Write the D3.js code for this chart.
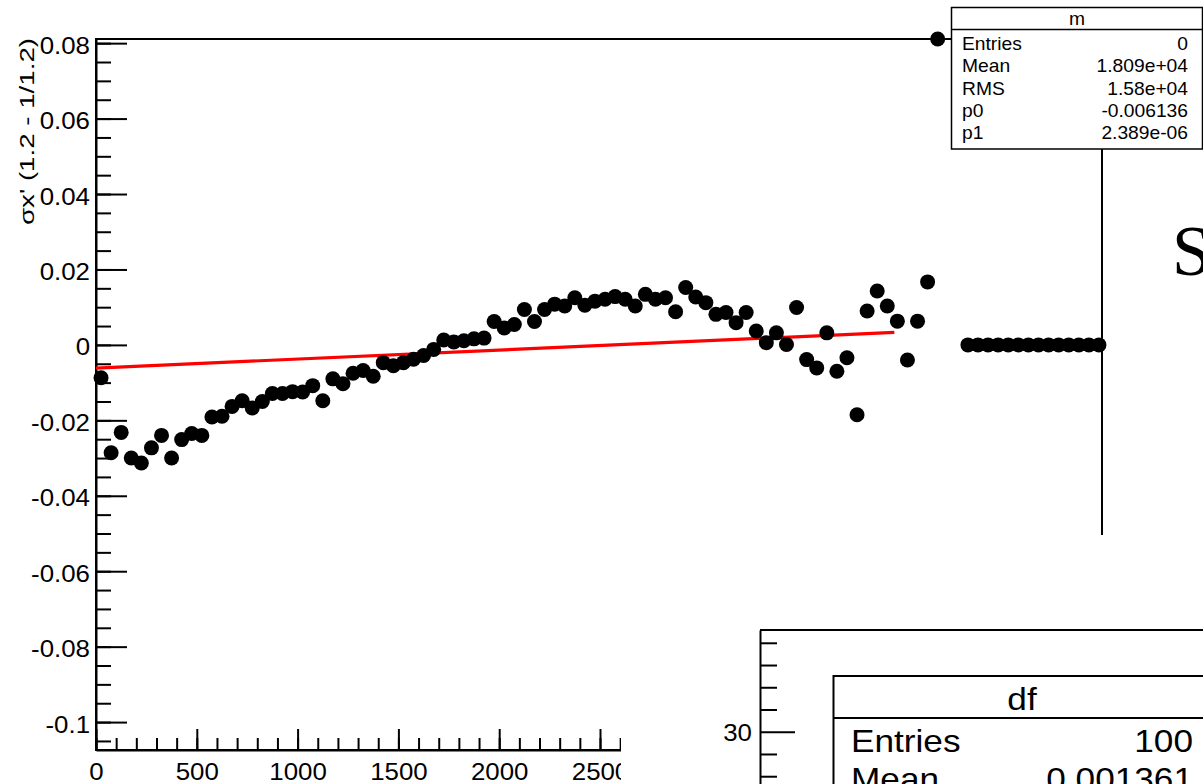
<!DOCTYPE html>
<html>
<head>
<meta charset="utf-8">
<script src="https://cdn.jsdelivr.net/npm/d3@7"></script>
<style>
  html, body { margin: 0; padding: 0; background: #fff; }
  svg { display: block; }
  text { font-family: "Liberation Sans", Arial, Helvetica, sans-serif; fill: #000; }
</style>
</head>
<body>
<svg id="chart" width="1203" height="784"></svg>
<script>
// ---------------- data ----------------
const binEdges = [0, 5000];          // histogram range, 100 bins of 50
const binCenters = d3.range(25, 5000, 50);
const binValues = [
  -0.0087, -0.0286, -0.0232, -0.0300, -0.0313, -0.0273, -0.0240, -0.0300, -0.0251, -0.0235,
  -0.0240, -0.0191, -0.0189, -0.0163, -0.0148, -0.0167, -0.0150, -0.0129, -0.0129, -0.0124,
  -0.0125, -0.0108, -0.0148, -0.0090, -0.0103, -0.0075, -0.0068, -0.0083, -0.0047, -0.0055,
  -0.0047, -0.0038, -0.0028, -0.0012, 0.0013, 0.0008, 0.0011, 0.0016, 0.0018, 0.0062,
  0.0045, 0.0054, 0.0094, 0.0062, 0.0094, 0.0108, 0.0103, 0.0125, 0.0105, 0.0116,
  0.0121, 0.0128, 0.0121, 0.0103, 0.0134, 0.0121, 0.0125, 0.0088, 0.0152, 0.0127,
  0.0112, 0.0081, 0.0086, 0.0059, 0.0086, 0.0037, 0.0006, 0.0032, 0.0001, 0.0099,
  -0.0039, -0.0061, 0.0032, -0.0070, -0.0034, -0.0185, 0.0090, 0.0143, 0.0103, 0.0063,
  -0.0040, 0.0063, 0.0167, 0.0811, null, null, 0, 0, 0, 0,
  0, 0, 0, 0, 0, 0, 0, 0, 0, 0
];
const fitP0 = -0.006136;
const fitP1 = 2.389e-06;
const fitRange = [0, 3960];

const yMajorTicks = [-0.1, -0.08, -0.06, -0.04, -0.02, 0, 0.02, 0.04, 0.06, 0.08];
const yMajorLabels = ["-0.1", "-0.08", "-0.06", "-0.04", "-0.02", "0", "0.02", "0.04", "0.06", "0.08"];
// only the visible part of the x axis (the rest is hidden behind the lower-right pad)
const xMajorTicks = [0, 500, 1000, 1500, 2000, 2500];
const xMajorLabels = ["0", "500", "1000", "1500", "2000", "2500"];
const xMinorTicks = [0, 100, 200, 300, 400, 500, 600, 700, 800, 900, 1000, 1100, 1200, 1300,
  1400, 1500, 1600, 1700, 1800, 1900, 2000, 2100, 2200, 2300, 2400, 2500, 2600];
const yTitle = "\u03c3x' (1.2 - 1/1.2)";

const statM_title = "m";
const statM_labels = ["Entries", "Mean", "RMS", "p0", "p1"];
const statM_values = ["0", "1.809e+04", "1.58e+04", "-0.006136", "2.389e-06"];

const pad2Ticks = [30];
const pad2Labels = ["30"];
const pad2Minor = [26, 28, 32, 34, 36, 38];
const statDf_title = "df";
const statDf_labels = ["Entries", "Mean"];
const statDf_values = ["100", "0.001361"];

const sideText = "S";

// ---------------- drawing ----------------
const svg = d3.select("#chart");
svg.append("rect").attr("width", 1203).attr("height", 784).attr("fill", "#fff");

const SX = 1.1; // horizontal text stretch of the picture

const x = d3.scaleLinear().domain(binEdges).range([96, 1104]);
const y = d3.scaleLinear().domain([-0.1074, 0.0811]).range([750, 39]).clamp(true);

svg.append("defs").append("clipPath").attr("id", "xclip")
  .append("rect").attr("x", 0).attr("y", 0).attr("width", 621).attr("height", 784);

const main = svg.append("g");

// frame
main.append("rect")
  .attr("x", x(0)).attr("y", 39)
  .attr("width", x(5000) - x(0) - 2).attr("height", 750 - 39)
  .attr("fill", "none").attr("stroke", "#000").attr("stroke-width", 2);

// y axis
const yMinor = d3.range(-0.105, 0.0811, 0.005);
main.append("g").attr("transform", `translate(${x(0)},0)`)
  .call(d3.axisLeft(y).tickValues(yMinor).tickSize(-15).tickSizeOuter(0).tickFormat(""))
  .call(g => g.select(".domain").remove())
  .call(g => g.selectAll("line").attr("stroke-width", 2));
const yAx = main.append("g").attr("transform", `translate(${x(0)},0)`)
  .call(d3.axisLeft(y).tickValues(yMajorTicks).tickSize(-31).tickSizeOuter(0)
    .tickFormat((d, i) => yMajorLabels[i]));
yAx.select(".domain").attr("stroke-width", 2);
yAx.selectAll("line").attr("stroke-width", 2);
yAx.selectAll("text")
  .attr("x", null).attr("dy", null)
  .attr("dominant-baseline", "central")
  .attr("transform", `translate(-6,2) scale(${SX},1)`)
  .style("font-size", "23.5px").attr("fill", "#000");

// x axis (clipped where the lower-right pad covers it)
const xg = main.append("g").attr("clip-path", "url(#xclip)");
xg.append("g").attr("transform", "translate(0,750)")
  .call(d3.axisBottom(x).tickValues(xMinorTicks).tickSize(-12).tickSizeOuter(0).tickFormat(""))
  .call(g => g.select(".domain").remove())
  .call(g => g.selectAll("line").attr("stroke-width", 2));
const xAx = xg.append("g").attr("transform", "translate(0,750)")
  .call(d3.axisBottom(x).tickValues(xMajorTicks).tickSize(-21).tickSizeOuter(0)
    .tickFormat((d, i) => xMajorLabels[i]));
xAx.select(".domain").attr("stroke-width", 2);
xAx.selectAll("line").attr("stroke-width", 2);
xAx.selectAll("text")
  .attr("y", null).attr("dy", null)
  .attr("transform", `translate(0,30) scale(${SX},1)`)
  .style("font-size", "23.5px").attr("fill", "#000");

// y title
main.append("text")
  .attr("transform", "translate(34,38) rotate(-90)")
  .attr("text-anchor", "end")
  .attr("textLength", 187).attr("lengthAdjust", "spacingAndGlyphs")
  .style("font-size", "21px")
  .text(yTitle);

// fit line
const fitLine = d3.line().x(d => x(d)).y(d => y(fitP0 + fitP1 * d));
main.append("path")
  .datum(fitRange)
  .attr("d", fitLine)
  .attr("fill", "none").attr("stroke", "#ff0000").attr("stroke-width", 3.2);

// markers
const pts = binCenters.map((c, i) => ({ c, v: binValues[i] })).filter(d => d.v !== null);
main.append("g").selectAll("circle").data(pts).join("circle")
  .attr("cx", d => x(d.c)).attr("cy", d => y(d.v)).attr("r", 7.5)
  .attr("fill", "#000");

// white cover (lower-right pad region)
svg.append("rect").attr("x", 621).attr("y", 535).attr("width", 1203 - 621).attr("height", 784 - 535)
  .attr("fill", "#fff");

// ---- stat box "m"
const sm = svg.append("g");
sm.append("rect").attr("x", 951.5).attr("y", 7.5).attr("width", 251).attr("height", 141.5)
  .attr("fill", "#fff").attr("stroke", "#000").attr("stroke-width", 1.5);
sm.append("line").attr("x1", 951.5).attr("x2", 1202.5).attr("y1", 29.5).attr("y2", 29.5)
  .attr("stroke", "#000").attr("stroke-width", 1.5);
sm.append("text").attr("text-anchor", "middle")
  .attr("transform", `translate(1077,25) scale(${SX},1)`)
  .style("font-size", "17.5px").text(statM_title);
statM_labels.forEach((l, i) => {
  sm.append("text").attr("transform", `translate(962,${50 + i * 22.3}) scale(${SX},1)`)
    .style("font-size", "17.5px").text(l);
  sm.append("text").attr("text-anchor", "end")
    .attr("transform", `translate(1188,${50 + i * 22.3}) scale(${SX},1)`)
    .style("font-size", "17.5px").text(statM_values[i]);
});

// ---- side text
svg.append("text").attr("x", 1172).attr("y", 275)
  .style("font-family", "'Liberation Serif', 'Times New Roman', serif")
  .style("font-size", "71px").attr("fill", "#111").text(sideText);

// ---- bottom-right pad
const y2 = d3.scaleLinear().domain([25.3, 39.15]).range([784, 630]);
const p2 = svg.append("g");
p2.append("line").attr("x1", 760).attr("x2", 1203).attr("y1", 630).attr("y2", 630)
  .attr("stroke", "#000").attr("stroke-width", 2);
p2.append("g").attr("transform", "translate(760,0)")
  .call(d3.axisLeft(y2).tickValues(pad2Minor).tickSize(-17).tickSizeOuter(0).tickFormat(""))
  .call(g => g.select(".domain").remove())
  .call(g => g.selectAll("line").attr("stroke-width", 2));
const y2Ax = p2.append("g").attr("transform", "translate(760,0)")
  .call(d3.axisLeft(y2).tickValues(pad2Ticks).tickSize(-35).tickSizeOuter(0)
    .tickFormat((d, i) => pad2Labels[i]));
y2Ax.select(".domain").attr("stroke-width", 2);
y2Ax.selectAll("line").attr("stroke-width", 2);
y2Ax.selectAll("text")
  .attr("x", null).attr("dy", null)
  .attr("dominant-baseline", "central")
  .attr("transform", `translate(-8,1) scale(${SX},1)`)
  .style("font-size", "23.5px").attr("fill", "#000");

// ---- stat box "df"
const sd = svg.append("g");
sd.append("rect").attr("x", 833.5).attr("y", 676).attr("width", 400).attr("height", 200)
  .attr("fill", "#fff").attr("stroke", "#000").attr("stroke-width", 2);
sd.append("line").attr("x1", 833.5).attr("x2", 1210).attr("y1", 718).attr("y2", 718)
  .attr("stroke", "#000").attr("stroke-width", 2);
sd.append("text").attr("text-anchor", "middle")
  .attr("transform", `translate(1022,710) scale(${SX},1)`)
  .style("font-size", "32px").text(statDf_title);
statDf_labels.forEach((l, i) => {
  sd.append("text").attr("transform", `translate(851,${752 + i * 38}) scale(${SX},1)`)
    .style("font-size", "32px").text(l);
  sd.append("text").attr("text-anchor", "end")
    .attr("transform", `translate(1193,${752 + i * 38}) scale(${SX},1)`)
    .style("font-size", "32px").text(statDf_values[i]);
});
</script>
</body>
</html>
